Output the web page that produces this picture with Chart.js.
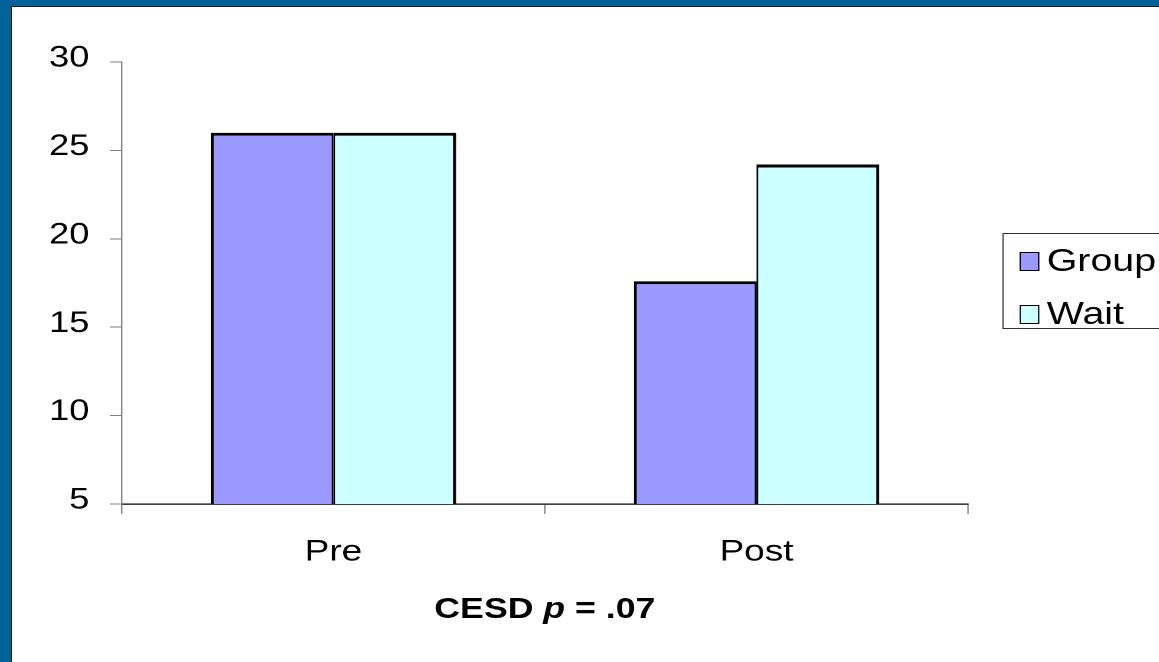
<!DOCTYPE html>
<html>
<head>
<meta charset="utf-8">
<script src="https://cdn.jsdelivr.net/npm/chart.js@4/dist/chart.umd.min.js"></script>
<style>
  html, body { margin: 0; padding: 0; }
  body {
    width: 1159px; height: 662px; overflow: hidden; position: relative;
    background: #00649b; font-family: "Liberation Sans", Arial, sans-serif;
  }
  #panel {
    position: absolute; left: 11px; top: 6px; width: 1170px; height: 680px;
    background: #fff; border-left: 1px solid #1a1a1a; border-top: 1px solid #1a1a1a;
  }
  /* the original picture is stretched sideways, so the whole chart is too */
  #wrap {
    position: absolute; left: 0; top: 0; width: 942px; height: 662px;
    transform: scaleX(1.23); transform-origin: 0 0;
  }
  #chart-box { position: absolute; left: 0; top: 0; width: 942px; height: 662px; }
  #legend {
    position: absolute; left: 815px; top: 233px; width: 200px; height: 96px;
    border: 1px solid #333; box-sizing: border-box;
  }
  .swatch { position: absolute; width: 16px; height: 19px; border: 1.5px solid #000; box-sizing: border-box; }
  .label { position: absolute; font-size: 32px; line-height: 32px; color: #000; white-space: nowrap; }
  #title {
    position: absolute; left: 243px; width: 400px; top: 594px;
    text-align: center; font-size: 29px; line-height: 29px; font-weight: bold; color: #000;
  }
</style>
</head>
<body>
<div id="panel"></div>
<div id="wrap">
  <div id="chart-box"><canvas id="chart"></canvas></div>
  <div id="legend"></div>
  <div id="title">CESD <i>p</i> = .07</div>
</div>
<script>
const categories = ["Pre", "Post"];
const seriesNames = ["Group", "Wait"];
const groupValues = [26.0, 17.6];
const waitValues = [26.0, 24.2];
const yTicks = [5, 10, 15, 20, 25, 30];
const seriesColors = ["#9999ff", "#ccffff"];

const fontFamily = '"Liberation Sans", Arial, sans-serif';

// legend drawn as html, one row per series
const legend = document.getElementById("legend");
seriesNames.forEach((name, i) => {
  const top = 18 + i * 53;
  const sw = document.createElement("div");
  sw.className = "swatch";
  sw.style.left = "13px";
  sw.style.top = top + "px";
  sw.style.background = seriesColors[i];
  legend.appendChild(sw);
  const lb = document.createElement("div");
  lb.className = "label";
  lb.style.left = "35px";
  lb.style.top = (top - 8) + "px";
  lb.innerText = name;
  legend.appendChild(lb);
});

new Chart(document.getElementById("chart").getContext("2d"), {
  type: "bar",
  data: {
    labels: categories,
    datasets: [
      {
        label: seriesNames[0],
        data: groupValues,
        backgroundColor: seriesColors[0],
        borderColor: "#000",
        borderWidth: { top: 3, left: 2.5, right: 1.5, bottom: 0 },
        borderSkipped: "start",
      },
      {
        label: seriesNames[1],
        data: waitValues,
        backgroundColor: seriesColors[1],
        borderColor: "#000",
        borderWidth: { top: 3, left: 1.5, right: 2.5, bottom: 0 },
        borderSkipped: "start",
      },
    ],
  },
  options: {
    responsive: true,
    maintainAspectRatio: false,
    animation: false,
    devicePixelRatio: 2,
    layout: { padding: { left: 0, right: 155, top: 62, bottom: 78 } },
    datasets: { bar: { barPercentage: 1.0, categoryPercentage: 0.58 } },
    plugins: { legend: { display: false }, tooltip: { enabled: false } },
    scales: {
      x: {
        grid: { offset: true, drawOnChartArea: false, tickLength: 10, color: "#808080" },
        border: { color: "#000", width: 1.2 },
        ticks: { font: { family: fontFamily, size: 30, lineHeight: 1.2 }, color: "#000", padding: 20 },
        afterFit: (s) => { s.height = 80; },
      },
      y: {
        min: yTicks[0],
        max: yTicks[yTicks.length - 1],
        grid: { drawOnChartArea: false, tickLength: 9.75, color: "#808080" },
        border: { color: "#808080", width: 1 },
        ticks: { font: { family: fontFamily, size: 29.5 }, color: "#000", padding: 16.8, labelOffset: -3.5 },
        afterBuildTicks: (s) => { s.ticks = yTicks.map((v) => ({ value: v })); },
        afterFit: (s) => { s.width = 99.2; },
      },
    },
  },
});
</script>
</body>
</html>
